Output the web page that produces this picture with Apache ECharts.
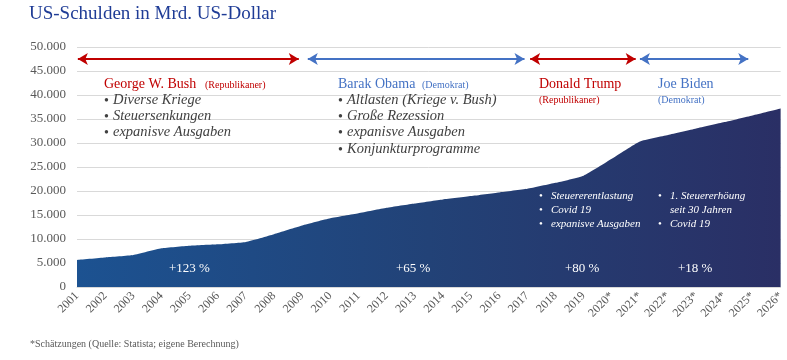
<!DOCTYPE html>
<html><head><meta charset="utf-8">
<script src="https://cdn.jsdelivr.net/npm/echarts@6/dist/echarts.min.js"></script>
<style>html,body{margin:0;padding:0;background:#fff}#c{width:787px;height:360px}</style>
</head><body><div id="c"></div>
<script>
const years = ['2001','2002','2003','2004','2005','2006','2007','2008','2009','2010','2011','2012','2013','2014','2015','2016','2017','2018','2019','2020*','2021*','2022*','2023*','2024*','2025*','2026*'];
const debt = [5650,6150,6650,8050,8600,8900,9400,11000,12800,14300,15350,16500,17400,18250,18950,19700,20450,21700,23200,26700,30300,31650,33000,34350,35750,37200];
const yTicks = [0,5000,10000,15000,20000,25000,30000,35000,40000,45000,50000];
const arrowLevel = 47500;
const termStart = [0.03, 8.2, 16.1, 20.0];
const termEnd   = [7.88, 15.9, 19.85, 23.85];
const termColor = ['#C00000','#4472C4','#C00000','#4472C4'];

const serif = '"Liberation Serif", "DejaVu Serif", serif';
const chart = echarts.init(document.getElementById('c'));
const fmt = v => v===0 ? '0' : v.toLocaleString('de-DE');

const red = '#C00000', blue = '#4472C4', gray = '#404040';
function t(x,y,text,style){ return {type:'text',left:x,top:y,style:Object.assign({text:text,font:'14px '+serif,fill:gray},style||{}),z:100}; }
const graphics = [
  t(29,5,'US-Schulden in Mrd. US-Dollar',{font:'19px '+serif,fill:'#1F3C96'}),
  t(104,77,'George W. Bush',{font:'14px '+serif,fill:red}),
  t(205,80,'(Republikaner)',{font:'10px '+serif,fill:red}),
  t(104,94,'• ',{}), t(113,93,'Diverse Kriege',{font:'italic 14.5px '+serif}),
  t(104,110,'• ',{}), t(113,109,'Steuersenkungen',{font:'italic 14.5px '+serif}),
  t(104,126,'• ',{}), t(113,125,'expanisve Ausgaben',{font:'italic 14.5px '+serif}),
  t(338,77,'Barak Obama',{font:'14px '+serif,fill:blue}),
  t(422,80,'(Demokrat)',{font:'10px '+serif,fill:blue}),
  t(338,94,'• ',{}), t(347,93,'Altlasten (Kriege v. Bush)',{font:'italic 14.5px '+serif}),
  t(338,110,'• ',{}), t(347,109,'Große Rezession',{font:'italic 14.5px '+serif}),
  t(338,126,'• ',{}), t(347,125,'expanisve Ausgaben',{font:'italic 14.5px '+serif}),
  t(338,143,'• ',{}), t(347,142,'Konjunkturprogramme',{font:'italic 14.5px '+serif}),
  t(539,77,'Donald Trump',{font:'14px '+serif,fill:red}),
  t(539,95,'(Republikaner)',{font:'10px '+serif,fill:red}),
  t(658,77,'Joe Biden',{font:'14px '+serif,fill:blue}),
  t(658,95,'(Demokrat)',{font:'10px '+serif,fill:blue}),
  t(539,191,'•',{font:'11px '+serif,fill:'#fff'}), t(551,191,'Steuererentlastung',{font:'italic 11px '+serif,fill:'#fff'}),
  t(539,205,'•',{font:'11px '+serif,fill:'#fff'}), t(551,205,'Covid 19',{font:'italic 11px '+serif,fill:'#fff'}),
  t(539,219,'•',{font:'11px '+serif,fill:'#fff'}), t(551,219,'expanisve Ausgaben',{font:'italic 11px '+serif,fill:'#fff'}),
  t(658,191,'•',{font:'11px '+serif,fill:'#fff'}), t(670,191,'1. Steuererhöung',{font:'italic 11px '+serif,fill:'#fff'}),
  t(670,205,'seit 30 Jahren',{font:'italic 11px '+serif,fill:'#fff'}),
  t(658,219,'•',{font:'11px '+serif,fill:'#fff'}), t(670,219,'Covid 19',{font:'italic 11px '+serif,fill:'#fff'}),
  t(169,262,'+123 %',{font:'13px '+serif,fill:'#fff'}),
  t(396,262,'+65 %',{font:'13px '+serif,fill:'#fff'}),
  t(565,262,'+80 %',{font:'13px '+serif,fill:'#fff'}),
  t(678,262,'+18 %',{font:'13px '+serif,fill:'#fff'}),
  t(30,339,'*Schätzungen (Quelle: Statista; eigene Berechnung)',{font:'10px '+serif,fill:'#595959'})
];

const arrows = termStart.map((s,i)=>[
  {coord:[s,arrowLevel],lineStyle:{color:termColor[i],width:2,type:'solid'},itemStyle:{color:termColor[i]}},
  {coord:[termEnd[i],arrowLevel]}
]);

chart.setOption({
  animation:false,
  grid:{left:77,right:4,top:47,bottom:73,containLabel:false},
  xAxis:[{
    type:'category',data:years,boundaryGap:false,
    axisLine:{show:true,lineStyle:{color:'#d9d9d9'}},axisTick:{show:false},
    axisLabel:{rotate:45,interval:0,color:'#595959',fontFamily:serif,fontSize:12,margin:7}
  },{
    type:'value',min:0,max:25,show:false
  }],
  yAxis:{
    type:'value',min:0,max:50000,interval:5000,
    axisLine:{show:false},axisTick:{show:false},
    splitLine:{lineStyle:{color:'#d9d9d9',width:1}},
    axisLabel:{color:'#595959',fontFamily:serif,fontSize:13,margin:11,formatter:fmt}
  },
  series:[{
    type:'line',data:debt,showSymbol:false,smooth:0.15,
    lineStyle:{width:0},
    areaStyle:{opacity:1,color:new echarts.graphic.LinearGradient(0,0,1,0,[
      {offset:0,color:'#1C5291'},{offset:0.5,color:'#224277'},{offset:1,color:'#2A2F65'}])}
  },{
    type:'line',xAxisIndex:1,data:[],
    markLine:{silent:true,symbol:['arrow','arrow'],symbolSize:[9,10],label:{show:false},data:arrows}
  }],
  graphic:graphics
});
</script></body></html>
